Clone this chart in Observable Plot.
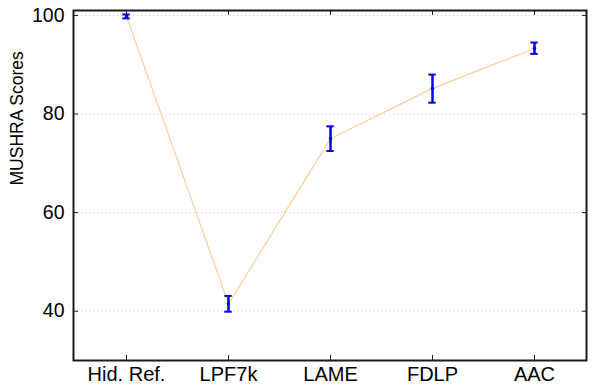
<!DOCTYPE html>
<html>
<head>
<meta charset="utf-8">
<script src="https://cdn.jsdelivr.net/npm/d3@7"></script>
<script src="https://cdn.jsdelivr.net/npm/@observablehq/plot@0.6"></script>
<style>
  html, body { margin: 0; padding: 0; background: #fff; }
  svg { display: block; }
</style>
</head>
<body>
<div id="chart"></div>
<script>
const categories = ["Hid. Ref.", "LPF7k", "LAME", "FDLP", "AAC"];
const means = [99.8, 41.5, 75.0, 85.2, 93.3];
const lows  = [99.4, 39.9, 72.5, 82.3, 92.2];
const highs = [100.2, 43.1, 77.5, 88.0, 94.5];
const yTicks = [40, 60, 80, 100];

const data = categories.map((c, i) => ({cat: c, mean: means[i], lo: lows[i], hi: highs[i]}));
const blue = "#0000ff";
const frameColor = "#1a1a1a";
const font = "Liberation Sans, Arial, Helvetica, sans-serif";

const W = 592, ML = 73, MR = 6;
const step = (W - ML - MR) / categories.length;
const capInset = (step - 8) / 2;

const chart = Plot.plot({
  width: W,
  height: 387,
  marginLeft: ML,
  marginRight: MR,
  marginTop: 10,
  marginBottom: 27,
  style: {fontFamily: font, fontSize: "19px", color: "#000", background: "#fff"},
  x: {type: "band", domain: categories, padding: 0},
  y: {domain: [30, 101]},
  marks: [
    Plot.ruleY(yTicks, {stroke: "#c8c8c8", strokeDasharray: "1,3", strokeWidth: 1}),
    Plot.line(data, {x: "cat", y: "mean", stroke: "#ffcc99", strokeWidth: 1.2}),
    Plot.ruleX(data, {x: "cat", y1: "lo", y2: "hi", stroke: blue, strokeWidth: 2.5}),
    Plot.tickY(data, {x: "cat", y: "lo", stroke: blue, strokeWidth: 2, insetLeft: capInset, insetRight: capInset}),
    Plot.tickY(data, {x: "cat", y: "hi", stroke: blue, strokeWidth: 2, insetLeft: capInset, insetRight: capInset}),
    Plot.dot(data, {x: "cat", y: "mean", r: 1.8, fill: blue, stroke: null}),
    // labels
    Plot.axisY({ticks: yTicks, tickSize: 0, tickPadding: 9, fontSize: 19.5, label: null}),
    Plot.axisX({tickSize: 0, tickPadding: 6, fontSize: 20, label: null}),
    // inward ticks
    Plot.axisY({anchor: "left", ticks: yTicks, tickSize: 5, dx: 5, tickFormat: () => "", label: null, stroke: frameColor}),
    Plot.axisY({anchor: "right", ticks: yTicks, tickSize: 5, dx: -5, tickFormat: () => "", label: null, stroke: frameColor}),
    Plot.axisX({anchor: "bottom", tickSize: 5, dy: -5, tickFormat: () => "", label: null, stroke: frameColor}),
    Plot.axisX({anchor: "top", tickSize: 4, dy: 4, tickFormat: () => "", label: null, stroke: frameColor}),
    Plot.frame({stroke: frameColor, strokeWidth: 2}),
    Plot.text(["MUSHRA Scores"], {frameAnchor: "left", rotate: -90, dx: -56, fontSize: 17.5, fill: "#000"})
  ]
});
document.getElementById("chart").appendChild(chart);
</script>
</body>
</html>
